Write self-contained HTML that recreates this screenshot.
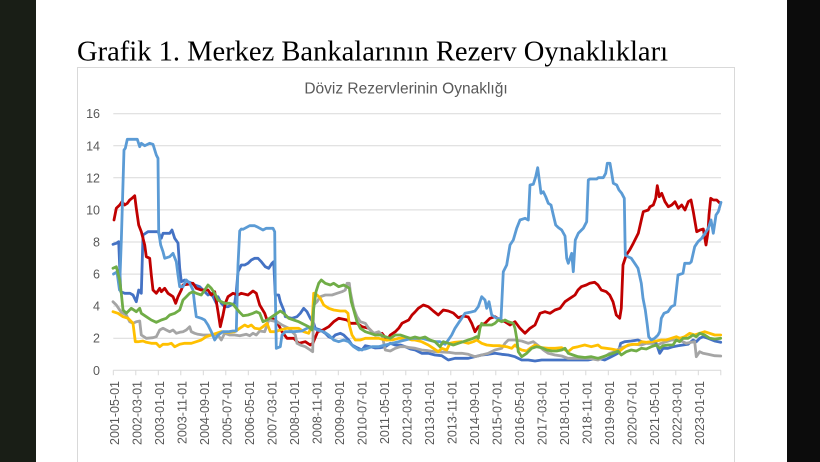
<!DOCTYPE html>
<html>
<head>
<meta charset="utf-8">
<style>
html,body{margin:0;padding:0;background:#fff;}
body{width:820px;height:462px;overflow:hidden;}
svg{display:block;}
</style>
</head>
<body>
<svg width="820" height="462" viewBox="0 0 820 462" xmlns="http://www.w3.org/2000/svg">
<rect x="0" y="0" width="820" height="462" fill="#ffffff"/>
<rect x="0" y="0" width="36" height="462" fill="#191e16"/>
<rect x="787" y="0" width="33" height="462" fill="#0c0c0c"/>

<text x="77" y="60.5" font-family="'Liberation Serif', serif" font-size="28.5" fill="#000" textLength="591" lengthAdjust="spacingAndGlyphs">Grafik 1. Merkez Bankalarının Rezerv Oynaklıkları</text>

<path d="M77.5 470 V67.5 H734.5 V470" fill="none" stroke="#d9d9d9" stroke-width="1"/>

<text x="406" y="93.5" text-anchor="middle" font-family="'Liberation Sans', sans-serif" font-size="15.5" fill="#595959">Döviz Rezervlerinin Oynaklığı</text>

<g stroke="#d9d9d9" stroke-width="1">
<line x1="113.3" y1="338.2" x2="721" y2="338.2"/>
<line x1="113.3" y1="306.1" x2="721" y2="306.1"/>
<line x1="113.3" y1="274.1" x2="721" y2="274.1"/>
<line x1="113.3" y1="242" x2="721" y2="242"/>
<line x1="113.3" y1="209.9" x2="721" y2="209.9"/>
<line x1="113.3" y1="177.8" x2="721" y2="177.8"/>
<line x1="113.3" y1="145.8" x2="721" y2="145.8"/>
<line x1="113.3" y1="113.7" x2="721" y2="113.7"/>
<line x1="113.3" y1="370.3" x2="721" y2="370.3"/>
</g>
<path d="M113.3 370.3v5M135.8 370.3v5M158.3 370.3v5M180.8 370.3v5M203.3 370.3v5M225.8 370.3v5M248.3 370.3v5M270.8 370.3v5M293.3 370.3v5M315.8 370.3v5M338.3 370.3v5M360.8 370.3v5M383.3 370.3v5M405.8 370.3v5M428.3 370.3v5M450.8 370.3v5M473.3 370.3v5M495.8 370.3v5M518.3 370.3v5M540.8 370.3v5M563.3 370.3v5M585.8 370.3v5M608.3 370.3v5M630.8 370.3v5M653.3 370.3v5M675.8 370.3v5M698.3 370.3v5M720.8 370.3v5" stroke="#d9d9d9" stroke-width="1" fill="none"/>

<g font-family="'Liberation Sans', sans-serif" font-size="12.5" fill="#595959" text-anchor="end">
<text x="100" y="374.8">0</text>
<text x="100" y="342.7">2</text>
<text x="100" y="310.6">4</text>
<text x="100" y="278.6">6</text>
<text x="100" y="246.5">8</text>
<text x="100" y="214.4">10</text>
<text x="100" y="182.3">12</text>
<text x="100" y="150.3">14</text>
<text x="100" y="118.2">16</text>
</g>

<g font-family="'Liberation Sans', sans-serif" font-size="12.5" fill="#595959" text-anchor="end" dominant-baseline="central">
<text x="114.8" y="381" transform="rotate(-90 114.8 381)">2001-05-01</text>
<text x="137.3" y="381" transform="rotate(-90 137.3 381)">2002-03-01</text>
<text x="159.8" y="381" transform="rotate(-90 159.8 381)">2003-01-01</text>
<text x="182.3" y="381" transform="rotate(-90 182.3 381)">2003-11-01</text>
<text x="204.8" y="381" transform="rotate(-90 204.8 381)">2004-09-01</text>
<text x="227.3" y="381" transform="rotate(-90 227.3 381)">2005-07-01</text>
<text x="249.8" y="381" transform="rotate(-90 249.8 381)">2006-05-01</text>
<text x="272.3" y="381" transform="rotate(-90 272.3 381)">2007-03-01</text>
<text x="294.8" y="381" transform="rotate(-90 294.8 381)">2008-01-01</text>
<text x="317.3" y="381" transform="rotate(-90 317.3 381)">2008-11-01</text>
<text x="339.8" y="381" transform="rotate(-90 339.8 381)">2009-09-01</text>
<text x="362.3" y="381" transform="rotate(-90 362.3 381)">2010-07-01</text>
<text x="384.8" y="381" transform="rotate(-90 384.8 381)">2011-05-01</text>
<text x="407.3" y="381" transform="rotate(-90 407.3 381)">2012-03-01</text>
<text x="429.8" y="381" transform="rotate(-90 429.8 381)">2013-01-01</text>
<text x="452.3" y="381" transform="rotate(-90 452.3 381)">2013-11-01</text>
<text x="474.8" y="381" transform="rotate(-90 474.8 381)">2014-09-01</text>
<text x="497.3" y="381" transform="rotate(-90 497.3 381)">2015-07-01</text>
<text x="519.8" y="381" transform="rotate(-90 519.8 381)">2016-05-01</text>
<text x="542.3" y="381" transform="rotate(-90 542.3 381)">2017-03-01</text>
<text x="564.8" y="381" transform="rotate(-90 564.8 381)">2018-01-01</text>
<text x="587.3" y="381" transform="rotate(-90 587.3 381)">2018-11-01</text>
<text x="609.8" y="381" transform="rotate(-90 609.8 381)">2019-09-01</text>
<text x="632.3" y="381" transform="rotate(-90 632.3 381)">2020-07-01</text>
<text x="654.8" y="381" transform="rotate(-90 654.8 381)">2021-05-01</text>
<text x="677.3" y="381" transform="rotate(-90 677.3 381)">2022-03-01</text>
<text x="699.8" y="381" transform="rotate(-90 699.8 381)">2023-01-01</text>
</g>

<g fill="none" stroke-width="2.8" stroke-linejoin="round" stroke-linecap="round">
<!-- dark blue -->
<polyline stroke="#4472C4" points="113,244.3 116.3,243.3 118.7,241.7 120.7,291.7 124.7,293.3 130,293.3 133,295 136.3,301.7 138.7,290 141.3,293.3 143,235 148,231.7 158,231.7 161.3,238.3 163,233.3 169.7,233.3 172,230 174.7,238.3 178,243 179.7,268.3 181.3,281.7 184.7,280 188,281.7 191.3,283 194.7,285 199.7,286.7 204.7,291.7 208,295 211.3,293.3 214.7,300 216.3,303.3 218,296.7 221.3,303.3 224.7,306.7 228,306.7 231.3,305 234.7,303.3 236.3,291.7 238,271.7 241.3,265 244.7,265 248,263.3 251.3,260 254.7,258.3 258,258.3 261.3,261.7 265.3,266.7 268.7,268.3 272,263.3 273.7,261.7 275.3,295 278.7,295 280.3,301.7 283.7,310 285.3,316.7 292,318.3 297,316.7 300.3,313.3 303.7,308.3 307,311.7 310.3,318.3 313.7,323.3 315.3,328.3 320.3,330 325.3,333.3 328.7,336.7 332,338.3 335.3,335 340.3,333.3 343.7,335 348.7,340 352,345 357,347.7 362,350 365.3,345.7 370.3,346.7 375.3,348 380.3,347.7 385.3,346.7 390.3,343.3 395.3,345 400.3,345 405.3,346.7 410.3,349 415.3,350 421.7,353.3 428.3,353.3 435,355 441.7,355.7 448.3,360 455,358.3 461.7,358.3 468.3,358.3 475,356.7 481.7,355 488.3,354.3 495,353.3 501.7,354.3 508.3,355 515,356.7 521.7,360 528.3,360 535,361 541.7,360 548.3,360 555,360 561.7,360 568,360 578,360 588,360 598,358.3 604.7,360 611.3,356.7 618,353.3 620.7,343.3 624.7,341.7 631.3,341 638,340 643,342.3 648,343.3 653,341.7 656.3,343.3 659.7,353.3 663,348.3 668,348.3 673,346.7 678,345.7 683,345 688,344.3 693,340 696.3,341.7 699.7,338.3 703,336.7 708,338.3 714.7,341 720.7,342.3"/>
<!-- red -->
<polyline stroke="#C00000" points="114,220 116.3,208.3 119.7,205 122,201.7 124.7,205 127.3,203.3 129.7,200 132,198.3 134.7,195.7 136.3,208.3 138.7,225 141.3,231.7 144.7,245 146.3,256.7 149.7,258.3 151.3,275 153,290 156.3,293.3 159.7,288.3 161.3,291.7 164.7,288.3 168,293.3 173,296.7 175.7,303.3 178,296.7 181.3,290 183,285 188,284.3 193,283.3 196.3,288.3 201.3,290 208,290 211.3,295 214.7,291.7 218,311.7 220.3,326.7 223,315 225.3,303.3 228,296.7 233,293.3 238,295 241.3,293.3 248,295 253,291 256.3,293.3 259.7,305 264.7,313.3 267,320 272,318 277,321.7 282,331.7 287,338.3 293.7,338.3 298.7,343.3 305.3,341.7 310.3,345 313,343 317.7,331.7 323,330 328.7,326.7 333.7,321.7 338.7,318.3 347,320 350.3,323.3 357,323.3 362,326.7 368.7,328.3 375.3,335 382,333.3 387,340 390.3,335 395.3,331.7 398.7,328.3 402,323.3 408.7,320 412,315 415,312 418.3,308.3 423.3,305 428.3,306.7 433.3,311 438.3,315 443.3,310 448.3,311 453.3,313 458.3,317.7 463.3,316 468.3,317 471.7,323.3 475,331.7 478.3,326.7 485,323.3 490,318.3 495,316.7 500,320 505,321.7 510,325 515,321.7 520,328.3 525,333.3 530,328.3 535,325 540,313.3 545,311.7 550,313.3 555,310 560,308.3 565,301.7 570,298.3 575,295 578,290 581.3,286.7 586.3,285 589.7,283.3 594.7,282.3 598,285 601.3,290 606.3,291.7 609.7,295 613,301.7 616.3,315 619.7,318.3 621.3,308.3 623,265 626.3,255 629.7,250 633.3,243.3 638.3,233.3 641.7,218.3 643.3,211.7 648.3,210 650,206.7 653.3,205 655.7,198.3 657.3,185.7 659.3,196.7 661.7,193.3 665,201.7 668.3,206.7 671.7,205 675,201.7 678.3,208.3 681.7,205 685,210 688.3,201.7 691,200 693.3,211.7 696.7,231.7 700,230 703.3,229 706,245 708,232 709,215 710.7,198.3 713.3,200 716.7,200 720,203.3"/>
<!-- gray -->
<polyline stroke="#A5A5A5" points="113,301.7 116.3,305 121.3,312.3 126.3,315 129.7,321.7 133,323.3 136.3,321.7 139.7,321 141.3,335 146.3,338.3 153,337.7 156.3,336.7 159.7,330 163,328.3 166.3,330 169.7,331.7 173,330 176.3,333.3 179.7,332.3 183,331.7 186.3,330 189.7,326.7 191.3,331.7 194.7,333.3 198,334.3 203,335 208,335 213,335 218,335 221.3,340 224.7,333.3 229.7,335 234.7,335 239.7,335.7 243,335 246.3,334.3 249.7,335.7 253,333.3 256.3,335 259.7,331 264.7,331.7 268.7,320 277,321.7 282,325 288.7,328.3 295.3,335 297,343.3 300.3,345 305.3,346.7 310.3,350 312.7,351.7 313.7,305 317,301.7 320.3,296.7 325.3,295 332,295 337,293.3 342,291.7 345.3,290 347,283.3 349.3,283.3 350.3,291.7 353.7,308.3 357,316.7 360.3,321.7 365.3,323.3 368.7,328.3 373.7,333.3 378.7,331.7 382,335 385.3,350 390.3,351 395.3,348.3 400.3,346.7 405.3,346.7 410.3,347.7 415.3,348.3 421.7,350 428.3,350.7 435,351.7 441.7,352 448.3,352.3 455,353.3 461.7,353.3 468.3,354.3 475,356.7 481.7,355 488.3,353.3 495,350 501.7,348.3 505,343.3 508.3,340 515,340 521.7,341 528.3,343.3 533.3,341.7 538.3,345.7 543.3,350 548.3,353.3 555,355 561.7,356 568,358.3 578,358.3 588,358.3 598,360 604.7,356.7 609.7,353.3 614.7,351.7 619.7,348.3 624.7,346.7 629.7,345 634.7,344.3 641.3,345 646.3,343.3 651.3,343.3 656.3,345.7 661.3,343.3 666.3,341.7 671.3,340 676.3,340 681.3,341 686.3,343.3 691.3,342.3 694.7,341.7 696.3,356.7 699.7,351.7 703,353.3 708,354.3 714.7,355.7 720.7,356"/>
<!-- yellow -->
<polyline stroke="#FFC000" points="113,311.7 118,313.3 123,316.7 128,318.3 133,323.3 135.3,341.7 138,341.7 143,341 146.3,342.3 151.3,343.3 156.3,343.3 159.7,346.7 163,344.3 168,344.3 171.3,343.3 174.7,346.7 179.7,344.3 184.7,343.3 191.3,343.3 196.3,341.7 201.3,340 206.3,336.7 211.3,335 216.3,333.3 221.3,331.7 228,332.3 234.7,331.7 239.7,328.3 244.7,325 248,326.7 251.3,325 254.7,328.3 259.7,329 263,326.7 267,323.3 270.3,331.7 275.3,331.7 280.3,330 287,328.3 293.7,328.3 298.7,328.3 303.7,331.7 308.7,333.3 312,325 313.7,293.3 317,295 320.3,298.3 323.7,305 328.7,308.3 333.7,310 340.3,311 345.3,311 348,313.3 349.3,325 352,335 355.3,340 360.3,340 365.3,338.3 372,338.3 378.7,338.3 385.3,340 392,340 398.7,338.3 405.3,338.3 412,340 415,340 421.7,341.7 428.3,345 433.3,348.3 438.3,351.7 441.7,348.3 446.7,350 450,343.3 455,342.3 461.7,341.7 468.3,343.3 473.3,341.7 476.7,340 481.7,343.3 486.7,345 493.3,345.7 500,345.7 506.7,346.7 511.7,348.3 515,345 518.3,348.3 521.7,350 526.7,351 530,348.3 535,345 541.7,347.7 548.3,348.3 555,348.3 561.7,347.7 568,351.7 573,347.7 578,346.7 584.7,345 591.3,346.7 598,345 601.3,347.7 606.3,348.3 611.3,349 616.3,350 619.7,351 623,348.3 628,345 633,344.3 638,344.3 641.3,341.7 646.3,342.3 651.3,341.7 656.3,341 661.3,340 666.3,340 671.3,338.3 676.3,336.7 679.7,338.3 684.7,336.7 689.7,333.3 694.7,335 699.7,333.3 704.7,331.7 709.7,333.3 714.7,335 720.7,335"/>
<!-- light blue -->
<polyline stroke="#5B9BD5" points="113.5,274 117,272 119.5,290 121.3,241 124,150 125.3,148.3 127.3,139.3 137.3,139.3 139.7,146.7 141.3,143.3 144.7,145.7 149.7,143.3 153,144.3 156.3,155 158,158.3 158.7,232 160.7,245 163,251.7 164.7,258.3 169.7,256.7 173,253.3 176.3,261.7 178,275 179.7,286.7 183,286.7 186.3,280 189.7,283.3 193,290 194.7,305 196.3,316.7 201.3,318.3 204.7,320 208,325 211.3,331.7 214.7,340 218,335 223,331.7 228,331.7 233,331 236.3,331 238,265 239.7,231 241.3,229 243,229.3 249.7,225.7 254.7,225.7 258,227.3 263,230 266.3,228.3 273,228.3 274.7,231.7 275.3,291.7 276.3,348.3 280.3,346.7 282,335 285.3,331.7 293.7,331.7 302,331 307,328.3 312,326.7 317,330 323.7,331.7 328.7,335 333.7,340 338.7,341.7 343.7,340 348.7,341.7 353.7,346.7 358.7,350 365.3,349 372,346.7 378.7,346.7 385.3,345 392,343.3 398.7,341.7 405.3,340 412,338.3 415,338.3 421.7,338.3 428.3,340 435,341.7 440,341.7 445,344.3 448.3,340 451.7,335 455,328.3 458.3,323.3 461.7,318.3 465,313.3 470,312.3 475,311 478.3,306.7 481.7,296.7 485,300 486.7,308.3 489,301.7 491.7,315 496.7,318.3 501,319 503.3,271.7 506.7,265 510,245 513.3,240 516.7,228.3 520,220 525,218.3 528.3,220 530,185 533.3,184.3 535.7,176.7 537.7,167.7 539.3,180 541,193.3 543.3,191.7 545.7,196.7 548.3,203.3 551,205 553.3,215 555.7,225 558.3,227.5 561.7,230 565,236 566.7,258.3 568.3,263.3 570,258.3 571.7,253.3 573.3,271.7 575.3,240 578.3,233.3 583.3,228.3 586.7,221.7 588.3,180 590,179 596.7,179 598.3,177.7 603.3,177.7 605.7,173.3 607.3,163.3 610,163.3 611.7,173.3 613.3,183.3 616.7,185 619,190 621.7,193.3 624.3,198.3 625,240 625.3,255 628,256.7 631.3,258.3 634.7,263.3 638,268.3 641.3,283.3 643,298.3 645.3,310 647.3,325 648.7,336.7 651.3,340 654.7,338.3 658,335 659.7,331.7 661.3,318.3 664,313.3 668,311.7 671.3,306.7 674.7,305 678,275 683,273.3 684.7,263.3 689.7,263.3 691.3,261.7 694.7,246.7 698,241.7 701.7,238.3 705,233.3 708.3,228.3 711,220 713.3,233.3 716,215 718.3,211.7 721,202.3"/>
<!-- green -->
<polyline stroke="#70AD47" points="113,268.3 116.3,266.7 119.7,280 121.3,293.3 123,310 126.3,313.3 131.3,308.3 136.3,311.7 139.7,308.3 141.3,313.3 146.3,316.7 151.3,320 156.3,322.3 161.3,320 166.3,318.3 169.7,315 174.7,313.3 179.7,310 183,300 186.3,296.7 189.7,293.3 193,291.7 196.3,293.3 201.3,295 204.7,290 208,285 211.3,288.3 214.7,293.3 218,300 221.3,301.7 224.7,303.3 229.7,303.3 233,304.3 236.3,308.3 239.7,312.3 243,315.7 248,315 253,313.3 256.3,311.7 259.7,313.3 263,321.7 267,320 272,316.7 277,313.3 280.3,311 283.7,313.3 288.7,318.3 293.7,320 298.7,321.7 303.7,324.3 308.7,326.7 312,330 313.7,308.3 316,291.7 318.7,283.3 321.3,280 325.3,283.3 330.3,285 333.7,283.3 338.7,286.7 343.7,285 347,286.7 349.3,288.3 351.3,301.7 353.7,310 357,321.7 360.3,328.3 365.3,331.7 370.3,333.3 375.3,335 380.3,335 385.3,336.7 390.3,338.3 395.3,335 400.3,335 405.3,336.7 410.3,338.3 415,337 420,338.3 425,337 430,340 435,341.7 440,346.7 443.3,341.7 448.3,343.3 453.3,345 458.3,343.3 463.3,341.7 468.3,340 473.3,338.3 476.7,336.7 478.3,338.3 480,328.3 481.7,323.3 483.3,325 488.3,325 491.7,325 495,323.3 498.3,320 501.7,321.7 505,320 508.3,321.7 513.3,323.3 515,328.3 516.7,338.3 518.3,351.7 521.7,356.7 526.7,353.3 531.7,348.3 536.7,346.7 541.7,347.7 546.7,350 551.7,351 556.7,351 561.7,350 565,348.3 568.3,353.3 573,355 578,356.7 585,357.5 591.3,356.7 598,358.3 603,356.7 608,355 613,353.3 618,351 621.3,355 626.3,351.7 631.3,350 636.3,351 641.3,348.3 646.3,349 651.3,346.7 656.3,345 659.7,348.3 663,345.7 668,345 673,345 676.3,340 679.7,341.7 683,338.3 688,338.3 693,335 696.3,336.7 699.7,333.3 704.7,335 709.7,338.3 714.7,339 720.7,338.3"/>
</g>
</svg>
</body>
</html>
